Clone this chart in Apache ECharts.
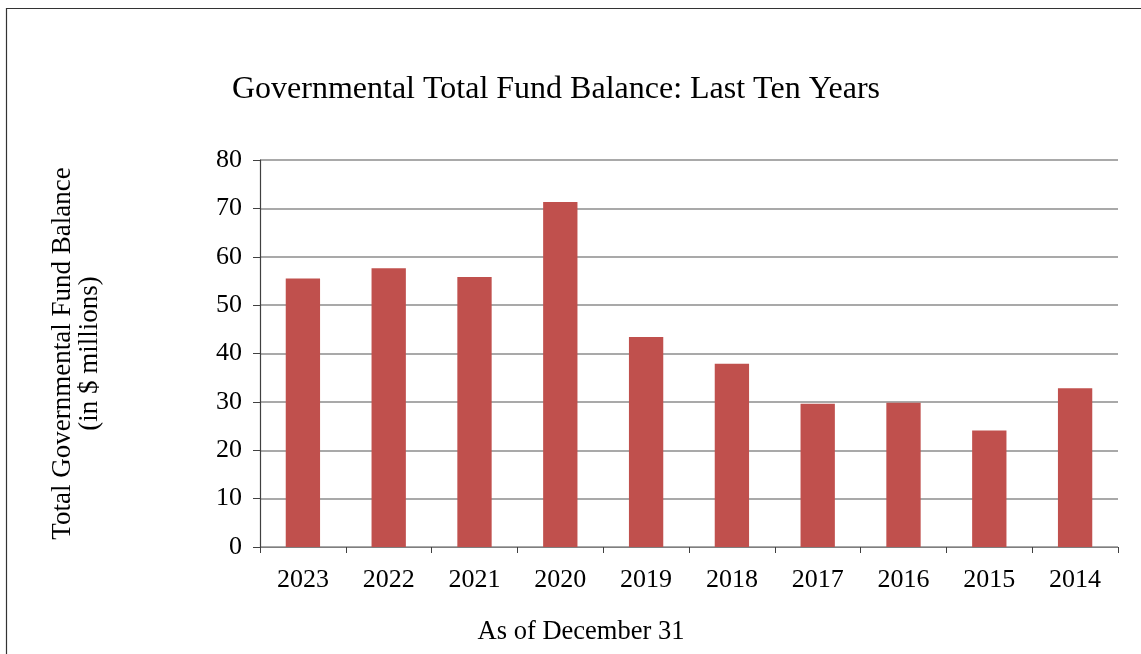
<!DOCTYPE html>
<html>
<head>
<meta charset="utf-8">
<script src="https://cdn.jsdelivr.net/npm/echarts@6/dist/echarts.min.js"></script>
<style>
  html, body { margin: 0; padding: 0; background: #fff; }
  #chart { width: 1141px; height: 654px; }
</style>
</head>
<body>
<div id="chart"></div>
<script>
// Fiscal years, most recent first
const years = ['2023', '2022', '2021', '2020', '2019', '2018', '2017', '2016', '2015', '2014'];
// Total governmental fund balance, $ millions, as of December 31
const fundBalance = [55.5, 57.6, 55.8, 71.3, 43.4, 37.9, 29.6, 29.8, 24.1, 32.8];
// Value axis ticks
const yTicks = [0, 10, 20, 30, 40, 50, 60, 70, 80];

const serif = '"Liberation Serif", "Times New Roman", serif';
const chart = echarts.init(document.getElementById('chart'));

chart.setOption({
  animation: false,
  backgroundColor: '#ffffff',
  title: [
    {
      text: 'Governmental Total Fund Balance: Last Ten Years',
      left: 551, top: 69, textAlign: 'center',
      textStyle: { fontFamily: serif, fontSize: 32, fontWeight: 'normal', color: '#000' }
    },
    {
      text: 'As of December 31',
      left: 576, top: 614, textAlign: 'center',
      textStyle: { fontFamily: serif, fontSize: 26.5, fontWeight: 'normal', color: '#000' }
    }
  ],
  graphic: [
    {
      type: 'polyline',
      shape: { points: [[6.5, 660], [6.5, 8.5], [1150, 8.5]] },
      style: { stroke: '#333', lineWidth: 1.2, fill: null },
      silent: true
    }
  ],
  grid: { left: 260, right: 23, top: 160, bottom: 107 },
  xAxis: {
    type: 'category',
    data: years,
    axisLine: { lineStyle: { color: '#7f7f7f', width: 1.2 } },
    axisTick: { show: true, length: 6, alignWithLabel: false, lineStyle: { color: '#404040' } },
    axisLabel: { fontFamily: serif, fontSize: 26, color: '#000', margin: 20 }
  },
  yAxis: {
    type: 'value',
    min: yTicks[0],
    max: yTicks[yTicks.length - 1],
    interval: yTicks[1] - yTicks[0],
    name: 'Total Governmental Fund Balance\n(in $ millions)',
    nameLocation: 'middle',
    nameRotate: 90,
    nameGap: 157,
    nameTextStyle: { fontFamily: serif, fontSize: 27, color: '#000', lineHeight: 27, align: 'center' },
    axisLine: { show: true, lineStyle: { color: '#404040', width: 1.2 } },
    axisTick: { show: true, length: 7, lineStyle: { color: '#404040' } },
    axisLabel: { fontFamily: serif, fontSize: 26, color: '#000', margin: 18 },
    splitLine: { show: true, lineStyle: { color: '#8c8c8c', width: 1.6 } }
  },
  series: [
    {
      type: 'bar',
      data: fundBalance,
      barWidth: '40%',
      itemStyle: { color: '#C0504D' }
    }
  ]
});
</script>
</body>
</html>
